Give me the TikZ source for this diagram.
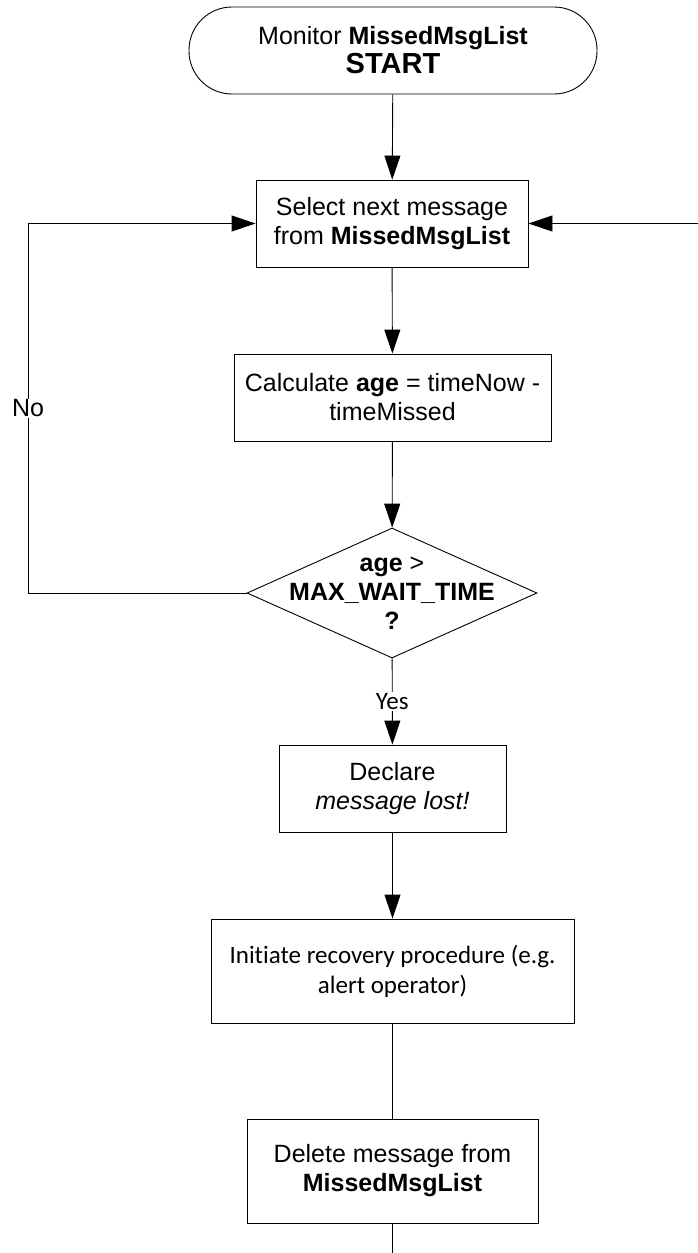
\documentclass[tikz,border=0pt]{standalone}
\usepackage{fontspec}
\setmainfont{Liberation Sans}
\newfontfamily\calibri[Ligatures={NoCommon,NoContextual,NoRare}]{Carlito}
\usepackage{tikz}
\usetikzlibrary{arrows.meta, shapes.geometric, positioning}

\tikzset{
  box/.style = {draw, line width=0.9bp, align=center, inner sep=0pt,
    font=\fontsize{25bp}{29bp}\selectfont},
  terminal/.style = {box, rounded corners=43bp},
  decision/.style = {box, diamond, inner sep=-42bp},
  flow/.style = {line width=0.9bp, -{Triangle[length=24bp, width=16bp]}},
  plain/.style = {line width=0.9bp},
  tag/.style = {fill=white, inner sep=1bp, font=\fontsize{25bp}{29bp}\selectfont}
}

\begin{document}
\begin{tikzpicture}[x=1bp, y=-1bp]
  \useasboundingbox (0,0) rectangle (698,1253);

  \node (start) [terminal, minimum width=408bp, minimum height=87bp] at (393, 50.5)
    {Monitor \textbf{MissedMsgList}\\[0bp]{\fontsize{29bp}{31bp}\selectfont\textbf{START}}};
  \node (select) [box, minimum width=272bp, minimum height=87bp] at (392, 223.5)
    {Select next message\\from \textbf{MissedMsgList}};
  \node (calc) [box, minimum width=317bp, minimum height=87bp] at (392.5, 397.5)
    {Calculate \textbf{age} = timeNow -\\timeMissed};
  \node (check) [decision, minimum width=290bp, minimum height=130bp] at (392, 593)
    {\textbf{age} >\\\textbf{MAX\_WAIT\_TIME}\\\textbf{?}};
  \node (lost) [box, minimum width=227bp, minimum height=87bp] at (392.5, 788.5)
    {Declare\\\textit{message lost!}};
  \node (recover) [box, minimum width=363bp, minimum height=104bp, font=\calibri\fontsize{25bp}{30bp}\selectfont] at (392.5, 971)
    {Initiate recovery procedure (e.g.\\alert operator)};
  \node (delete) [box, minimum width=291bp, minimum height=104bp] at (392.5, 1171)
    {Delete message from\\\textbf{MissedMsgList}};

  \coordinate (noturn) at (28, 593);
  \coordinate (rightin) at (698, 223.5);
  \coordinate (bottomout) at (392.5, 1253);

  \path [flow]
    (start) edge (select)
    (select) edge (calc)
    (calc) edge (check)
    (check) edge node [tag, font=\calibri\fontsize{25bp}{29bp}\selectfont] {Yes} (lost)
    (lost) edge (recover)
    (rightin) edge (select);
  \draw [flow] (check.west) -- (noturn) |- node [tag, pos=0.25] {No} (select.west);
  \path [plain]
    (recover) edge (delete)
    (delete) edge (bottomout);
\end{tikzpicture}
\end{document}
